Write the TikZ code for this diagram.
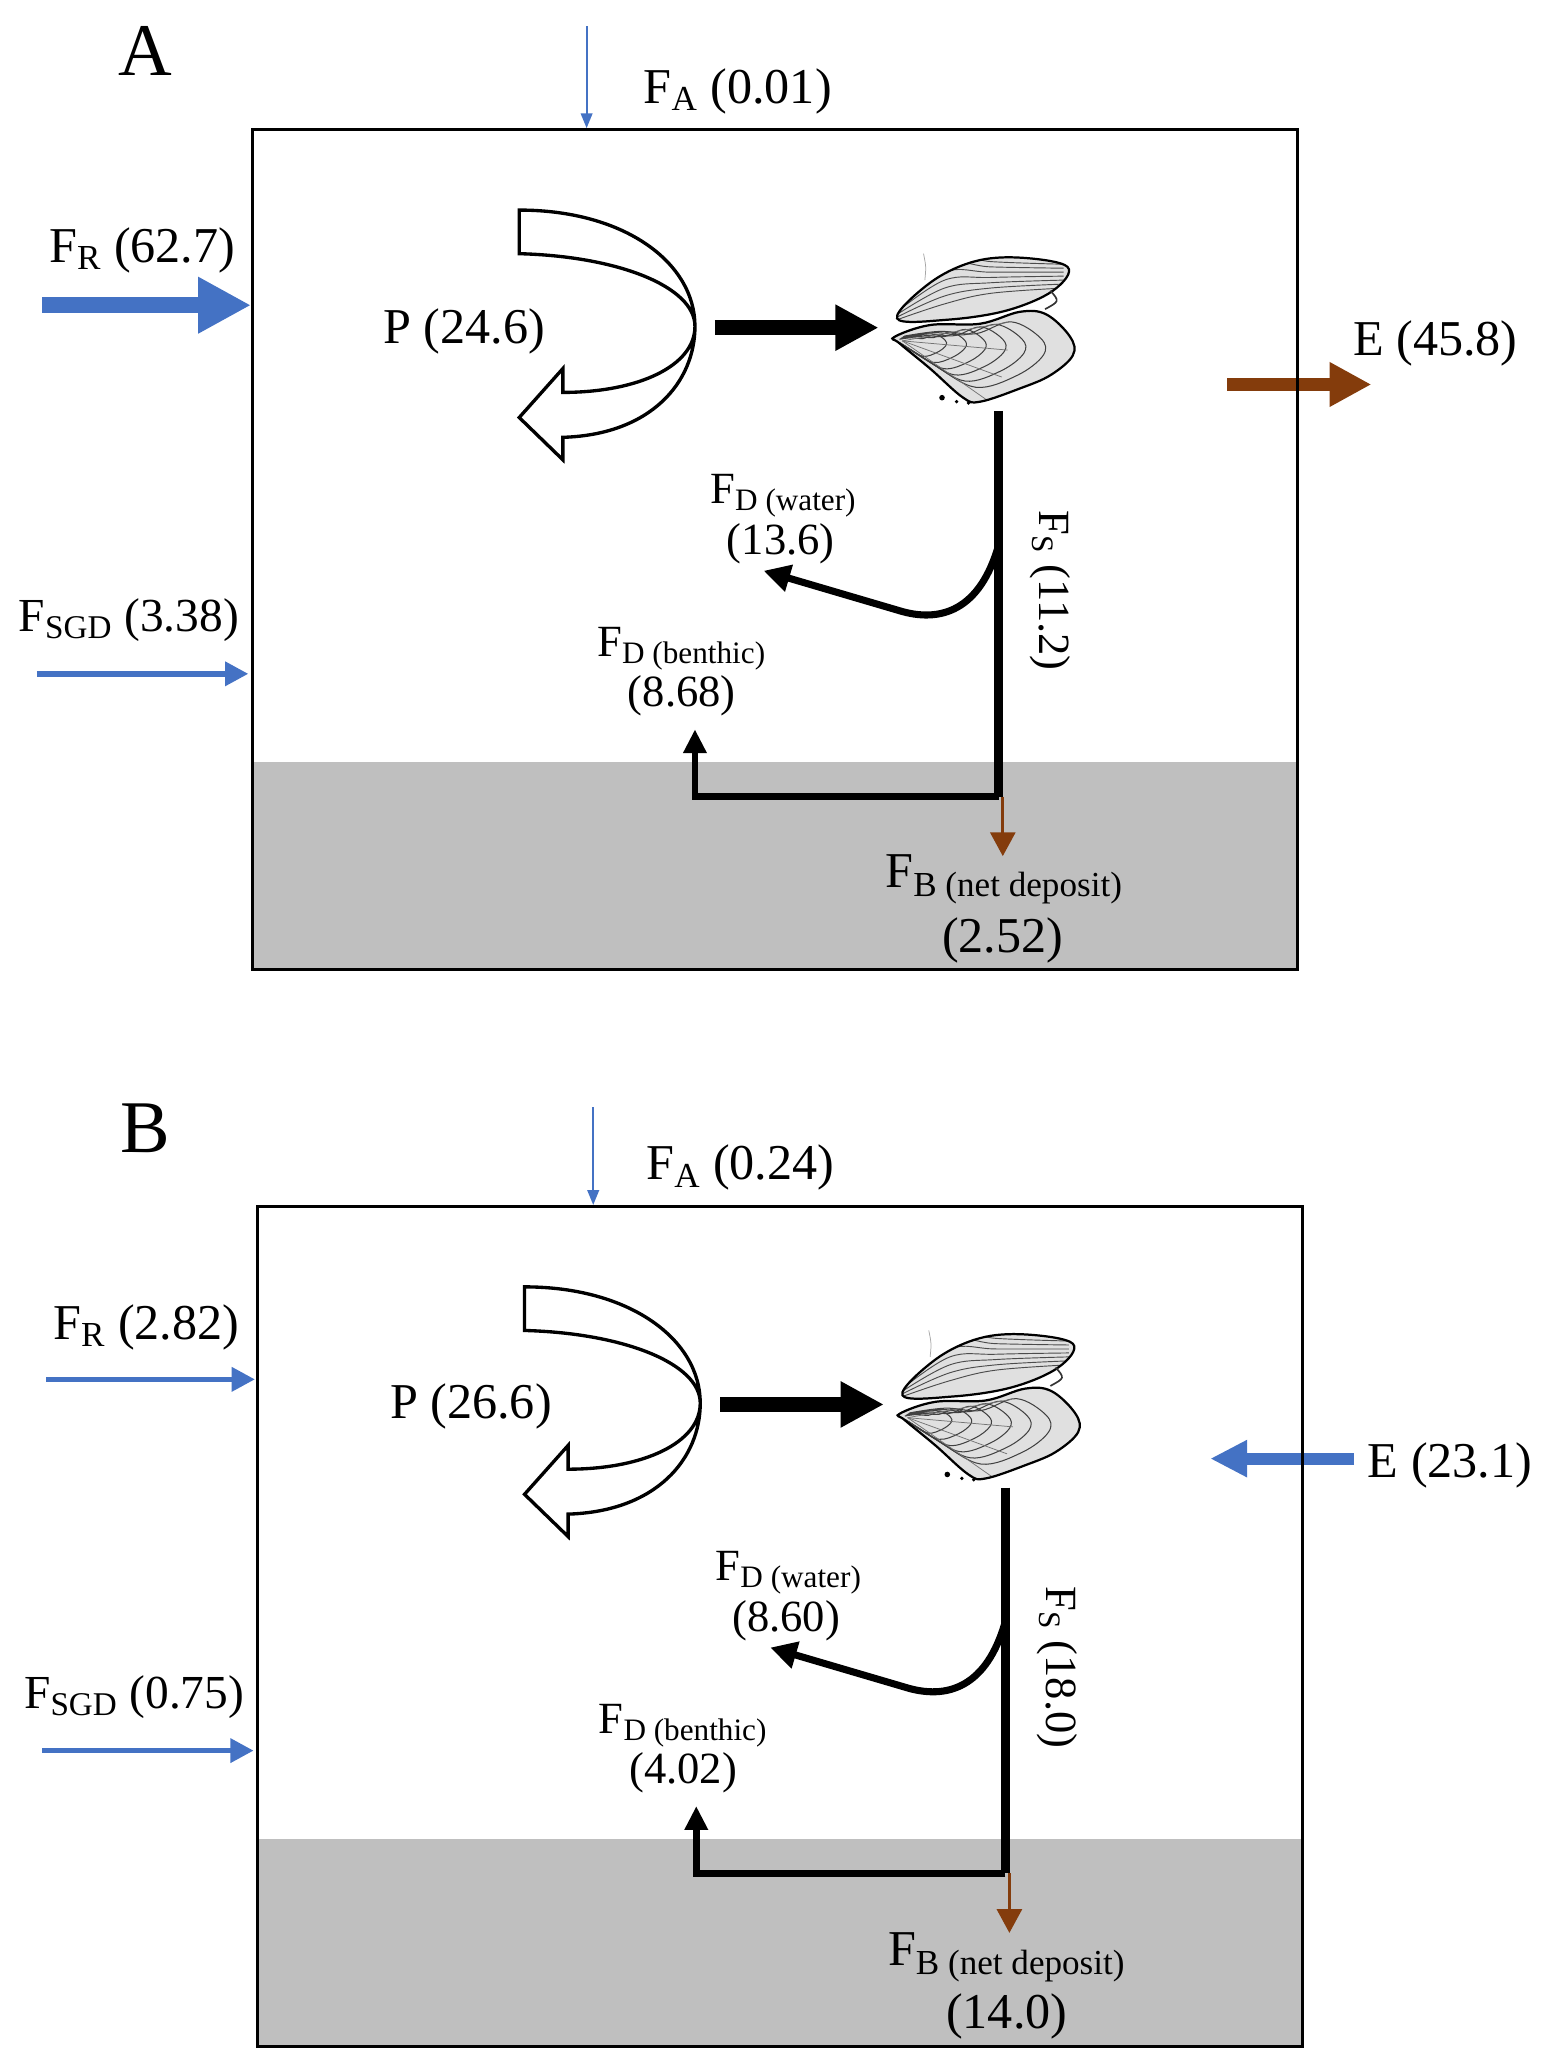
\documentclass[tikz,border=0pt]{standalone}
\usepackage{fontspec}
\setmainfont{Liberation Serif}
\usepackage{tikz}
\usetikzlibrary{arrows.meta}

\definecolor{fluxblue}{RGB}{68,114,196}
\definecolor{fluxbrown}{RGB}{132,60,12}

\tikzset{
  lab/.style={inner sep=0pt, font=\fontsize{27}{30}\selectfont},
  smalllab/.style={inner sep=0pt, font=\fontsize{24}{27}\selectfont},
  letter/.style={inner sep=0pt, font=\fontsize{40}{44}\selectfont},
  fineflow/.style={fluxblue, line width=1pt, -{Triangle[length=0.28cm,width=0.22cm]}},
  inflow/.style={fluxblue, line width=3pt, -{Triangle[length=0.44cm,width=0.44cm]}},
  fatflow/.style={line width=8.5pt, -{Triangle[length=1cm,width=1cm]}},
  blackflow/.style={line width=1.6pt, -{Triangle[length=0.5cm,width=0.5cm]}},
  oyster/.pic={
    % lower valve
    \fill[black!12] plot[smooth cycle, tension=0.6] coordinates
      {(-68,5) (-41,-4) (-3,-5) (27,-14) (47,-12) (65,5) (67,19) (50,34) (27,44) (-3,54) (-16,51) (-41,29) (-64,10)};
    \begin{scope}
      \clip plot[smooth cycle, tension=0.6] coordinates
        {(-68,5) (-41,-4) (-3,-5) (27,-14) (47,-12) (65,5) (67,19) (50,34) (27,44) (-3,54) (-16,51) (-41,29) (-64,10)};
      \foreach \s in {0.9,0.78,0.66,0.54,0.42,0.3}
        \draw[black!75, line width=0.55pt, scale around={\s:(-66,8)}] plot[smooth, tension=0.6] coordinates
          {(-60,4) (-30,0) (0,2) (30,-8) (55,6) (57,20) (35,37) (0,47) (-35,28) (-60,12)};
      \foreach \a in {-10,5,20,35}
        \draw[black!55, line width=0.4pt] (-62,8) -- ++(\a:80);
    \end{scope}
    \draw[line width=1.2pt] plot[smooth cycle, tension=0.6] coordinates
      {(-68,5) (-41,-4) (-3,-5) (27,-14) (47,-12) (65,5) (67,19) (50,34) (27,44) (-3,54) (-16,51) (-41,29) (-64,10)};
    % upper valve
    \fill[black!12] plot[smooth cycle, tension=0.6] coordinates
      {(-66,-9) (-41,-36) (-8,-52) (27,-55) (63,-48) (52,-30) (17,-15) (-28,-8)};
    \begin{scope}
      \clip plot[smooth cycle, tension=0.6] coordinates
        {(-66,-9) (-41,-36) (-8,-52) (27,-55) (63,-48) (52,-30) (17,-15) (-28,-8)};
      \foreach \d in {0,6,12,18,24,30,36}
        \draw[black!70, line width=0.5pt] plot[smooth, tension=0.6] coordinates
          {(-66,-8-\d/3) (-30,-20-\d) (5,-28-\d/1.5) (60,-32-\d/2)};
    \end{scope}
    \draw[line width=1.2pt] plot[smooth cycle, tension=0.6] coordinates
      {(-66,-9) (-41,-36) (-8,-52) (27,-55) (63,-48) (52,-30) (17,-15) (-28,-8)};
    \draw[black!80, line width=0.9pt] (50,-30) .. controls (57,-22) .. (46,-16);
    \draw[black!35, line width=0.4pt] (-46,-58) .. controls (-44,-48) .. (-45,-38);
    \fill (-32,51) circle (1.5pt) (-21,54) circle (1pt) (-12,55) circle (1pt);
  },
  ploop/.pic={
    \filldraw[fill=white, line width=1.8pt, line join=miter]
      (0,0) -- (0,33) .. controls (75,35) and (133,58) .. (133,88)
      .. controls (133,118) and (90,138) .. (33,138) -- (33,120) -- (0,157)
      -- (33,189) -- (33,172) .. controls (100,170) and (133,130) .. (133,88)
      .. controls (133,40) and (80,0) .. (0,0) -- cycle;
  }
}

\begin{document}
\begin{tikzpicture}[x=0.025cm, y=-0.025cm]
\useasboundingbox (0,0) rectangle (1180,1566);

% ---------- panel A ----------
\begin{scope}
\fill[black!25] (191,577) rectangle (982,734);
\node[letter, anchor=base] (titleA) at (110,57) {A};

\coordinate (faA) at (444,20);
\coordinate (faendA) at (444,97);
\draw[fineflow] (faA) -- (faendA);
\node[lab, anchor=base west] (faLabA) at (487,78) {F\textsubscript{A} (0.01)};

\coordinate (frA) at (32,231);
\coordinate (frendA) at (190,231);
\draw[fatflow, fluxblue] (frA) -- (frendA);
\node[lab, anchor=base west] (frLabA) at (37,199) {F\textsubscript{R} (62.7)};

\coordinate (sgdA) at (28,510);
\coordinate (sgdendA) at (188,510);
\draw[inflow] (sgdA) -- (sgdendA);
\node[lab, anchor=base west, font=\fontsize{25.5}{28}\selectfont] (sgdLabA) at (14,478) {F\textsubscript{SGD} (3.38)};

\pic at (393,159) {ploop};
\node[lab, anchor=base west] (pLabA) at (290,260) {P (24.6)};
\coordinate (poutA) at (541,248);
\coordinate (oysinA) at (665,248);
\draw[line width=8pt, -{Triangle[length=0.82cm,width=0.82cm]}] (poutA) -- (oysinA);

\pic at (745,250) {oyster};
\coordinate (oysA) at (756,311);
\coordinate (jA) at (756,412);
\coordinate (kA) at (756,603);
\draw[line width=5pt] (oysA) -- (kA);
\node[smalllab, rotate=-90] (fsLabA) at (795,447) {F\textsubscript{S} (11.2)};

\coordinate (fdwA) at (578,432);
\draw[blackflow, line width=3.8pt] (jA) .. controls (742,462) and (712,472) .. (680,462) -- (fdwA);
\node[smalllab, anchor=base] (fdwLabA) at (593,381) {F\textsubscript{D (water)}};
\node[smalllab, anchor=base] (fdwValA) at (591,420) {(13.6)};

\coordinate (fdbA) at (526,552);
\draw[blackflow, line width=3.6pt, -{Triangle[length=0.45cm,width=0.42cm]}] (kA) -- (526,603) -- (fdbA);
\node[smalllab, anchor=base] (fdbLabA) at (516,497) {F\textsubscript{D (benthic)}};
\node[smalllab, anchor=base] (fdbValA) at (516,535) {(8.68)};

\coordinate (fbA) at (759,648);
\draw[fluxbrown, line width=1.8pt, -{Triangle[length=0.45cm,width=0.47cm]}] (759,603) -- (fbA);
\node[lab, anchor=base] (fbLabA) at (760,672) {F\textsubscript{B (net deposit)}};
\node[lab, anchor=base] (fbValA) at (759,721) {(2.52)};

\coordinate (eA) at (929,291);
\coordinate (eendA) at (1038,291);
\draw[fluxbrown, line width=7pt, -{Triangle[length=0.79cm,width=0.79cm]}] (eA) -- (eendA);
\node[lab, anchor=base west] (eLabA) at (1024,269) {E (45.8)};

\draw[line width=1.6pt] (191,98) rectangle (982,734);
\end{scope}

% ---------- panel B ----------
\begin{scope}[shift={(4,815)}]
\fill[black!25] (191,577) rectangle (982,734);
\node[letter, anchor=base] (titleB) at (106,57) {B};

\coordinate (faB) at (445,23);
\coordinate (faendB) at (445,97);
\draw[fineflow] (faB) -- (faendB);
\node[lab, anchor=base west] (faLabB) at (485,78) {F\textsubscript{A} (0.24)};

\coordinate (frB) at (31,229);
\coordinate (frendB) at (189,229);
\draw[inflow] (frB) -- (frendB);
\node[lab, anchor=base west] (frLabB) at (36,199) {F\textsubscript{R} (2.82)};

\coordinate (sgdB) at (28,510);
\coordinate (sgdendB) at (188,510);
\draw[inflow] (sgdB) -- (sgdendB);
\node[lab, anchor=base west, font=\fontsize{25.5}{28}\selectfont] (sgdLabB) at (14,478) {F\textsubscript{SGD} (0.75)};

\pic at (393,159) {ploop};
\node[lab, anchor=base west] (pLabB) at (291,259) {P (26.6)};
\coordinate (poutB) at (541,248);
\coordinate (oysinB) at (665,248);
\draw[line width=8pt, -{Triangle[length=0.82cm,width=0.82cm]}] (poutB) -- (oysinB);

\pic at (745,250) {oyster};
\coordinate (oysB) at (757,311);
\coordinate (jB) at (757,412);
\coordinate (kB) at (757,603);
\draw[line width=5pt] (oysB) -- (kB);
\node[smalllab, rotate=-90] (fsLabB) at (796,447) {F\textsubscript{S} (18.0)};

\coordinate (fdwB) at (579,432);
\draw[blackflow, line width=3.8pt] (jB) .. controls (743,462) and (713,472) .. (681,462) -- (fdwB);
\node[smalllab, anchor=base] (fdwLabB) at (593,381) {F\textsubscript{D (water)}};
\node[smalllab, anchor=base] (fdwValB) at (591,420) {(8.60)};

\coordinate (fdbB) at (523,552);
\draw[blackflow, line width=3.6pt, -{Triangle[length=0.45cm,width=0.42cm]}] (kB) -- (523,603) -- (fdbB);
\node[smalllab, anchor=base] (fdbLabB) at (513,497) {F\textsubscript{D (benthic)}};
\node[smalllab, anchor=base] (fdbValB) at (513,535) {(4.02)};

\coordinate (fbB) at (760,648);
\draw[fluxbrown, line width=1.8pt, -{Triangle[length=0.45cm,width=0.47cm]}] (760,603) -- (fbB);
\node[lab, anchor=base] (fbLabB) at (758,673) {F\textsubscript{B (net deposit)}};
\node[lab, anchor=base] (fbValB) at (758,720) {(14.0)};

\coordinate (eB) at (1021,289);
\coordinate (eendB) at (912,289);
\draw[fluxblue, line width=6.5pt, -{Triangle[length=0.7cm,width=0.66cm]}] (eB) -- (eendB);
\node[lab, anchor=base west] (eLabB) at (1031,303) {E (23.1)};

\draw[line width=1.6pt] (191,98) rectangle (982,734);
\end{scope}
\end{tikzpicture}
\end{document}
